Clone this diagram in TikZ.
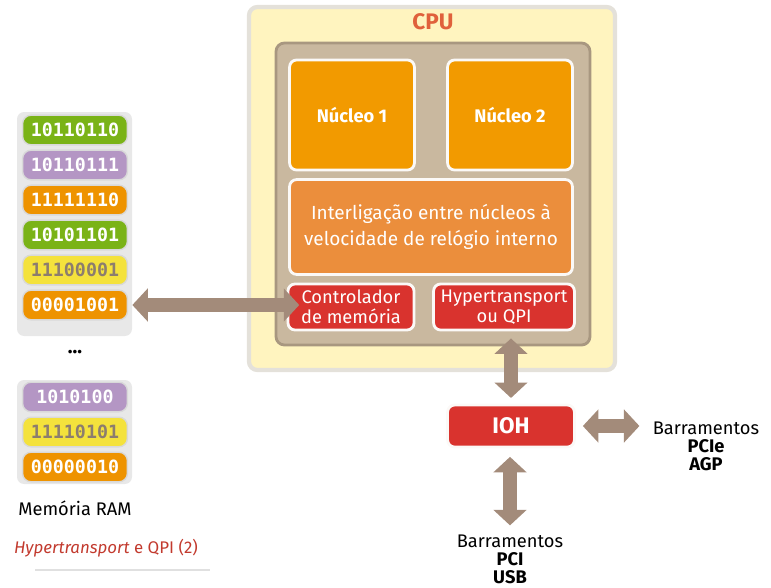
\documentclass[tikz,border=0pt]{standalone}
\usepackage{fontspec}
\setmainfont{Fira Sans}
\newfontfamily\bitsfont{DejaVu Sans Mono}
\usetikzlibrary{arrows.meta}

\definecolor{cpuyellow}{HTML}{FFF4BF}
\definecolor{cpuedge}{HTML}{E4E1DA}
\definecolor{tan}{HTML}{C9B89F}
\definecolor{tanedge}{HTML}{A89780}
\definecolor{coreorange}{HTML}{F29A00}
\definecolor{linkorange}{HTML}{EB8E3C}
\definecolor{chipred}{HTML}{D9332E}
\definecolor{arrowbrown}{HTML}{A38B7A}
\definecolor{bitgreen}{HTML}{7AB317}
\definecolor{bitpurple}{HTML}{B496C4}
\definecolor{bitorange}{HTML}{EE9300}
\definecolor{bityellow}{HTML}{F4E23C}
\definecolor{bitgray}{HTML}{8C7D6E}
\definecolor{cpulabel}{HTML}{E0613B}
\definecolor{notered}{HTML}{C23A2E}

\begin{document}
\begin{tikzpicture}[x=0.025cm,y=-0.025cm,
    chip/.style={draw=white!92!tan,line width=2pt,rounded corners=5pt,
        text=white,align=center,font=\fontsize{13}{14.5}\selectfont},
    cell/.style={draw=white!85!black,line width=1pt,rounded corners=6pt,
        minimum width=2.62cm,minimum height=0.74cm,font=\bitsfont\bfseries\fontsize{13}{14}\selectfont},
    link/.style={arrowbrown,line width=10pt,
        {Triangle[length=11pt,width=23pt]}-{Triangle[length=11pt,width=23pt]}},
    bus/.style={align=center,font=\fontsize{13}{12.8}\selectfont}]
    \useasboundingbox (0,0) rectangle (771,587);

    % CPU package
    \draw[cpuedge,fill=cpuyellow,line width=3pt,rounded corners=6pt] (249,7) rectangle (615,370);
    \node[text=cpulabel,font=\bfseries\fontsize{16}{18}\selectfont] (cpu) at (433,22) {CPU};
    \draw[tanedge,fill=tan,line width=2pt,rounded corners=6pt] (276,43) rectangle (590,345);

    \node[chip,fill=coreorange,minimum width=3.12cm,minimum height=2.75cm,font=\bfseries\fontsize{13}{14.5}\selectfont] (core1) at (352,115) {Núcleo 1};
    \node[chip,fill=coreorange,minimum width=3.12cm,minimum height=2.75cm,font=\bfseries\fontsize{13}{14.5}\selectfont] (core2) at (510,115) {Núcleo 2};
    \node[chip,fill=linkorange,minimum width=7.07cm,minimum height=2.37cm,font=\fontsize{13.5}{18}\selectfont] (inter) at (431,227)
        {Interligação entre núcleos à\\velocidade de relógio interno};
    \node[chip,fill=chipred,minimum width=3.15cm,minimum height=1.15cm,inner sep=1pt] (ctrl) at (351,307) {Controlador\\de memória};
    \node[chip,fill=chipred,minimum width=3.52cm,minimum height=1.15cm,inner sep=1pt] (qpi) at (504,307) {Hypertransport\\ou QPI};

    % memory
    \fill[black!9,rounded corners=5pt] (17,112) rectangle (132,336);
    \fill[black!9,rounded corners=5pt] (17,380) rectangle (132,484);
    \foreach \bits/\col/\txt [count=\i] in {10110110/bitgreen/white,10110111/bitpurple/white,
        11111110/bitorange/white,10101101/bitgreen/white,11100001/bityellow/bitgray,00001001/bitorange/white}
        \node[cell,fill=\col,text=\txt] (m\i) at (75,95+35*\i) {\bits};
    \node[font=\bfseries\fontsize{14}{14}\selectfont] (dots) at (75,352) {...};
    \foreach \bits/\col/\txt [count=\i] in {1010100/bitpurple/white,11110101/bityellow/bitgray,00000010/bitorange/white}
        \node[cell,fill=\col,text=\txt] (n\i) at (75,362+35*\i) {\bits};
    \node[font=\fontsize{13}{14}\selectfont] (ram) at (75,508) {Memória RAM};

    \node[text=notered,font=\fontsize{12}{13}\selectfont] (note) at (106,548) {\textit{Hypertransport} e QPI (2)};
    \draw[black!12,line width=0.8pt] (35,570) -- (210,570);

    % I/O hub and buses
    \node[chip,fill=chipred,minimum width=3.17cm,minimum height=1.05cm,font=\bfseries\fontsize{16}{16}\selectfont] (ioh) at (511,426) {IOH};
    \node[bus] (pcie) at (706,446) {Barramentos\\\textbf{PCIe}\\\textbf{AGP}};
    \node[bus] (pci) at (510,559) {Barramentos\\\textbf{PCI}\\\textbf{USB}};

    \draw[link,shorten <=3pt,shorten >=-9pt] (m6.east) -- (m6.east -| ctrl.west);
    \draw[link,shorten <=5pt,shorten >=4pt] (ioh.north |- qpi.south) -- (ioh.north);
    \draw[link,shorten <=5pt,shorten >=6pt] (ioh.east) -- (ioh.east -| pcie.west);
    \draw[link,shorten <=6pt,shorten >=3pt] (ioh.south -| pci.north) -- (pci.north);
\end{tikzpicture}
\end{document}
